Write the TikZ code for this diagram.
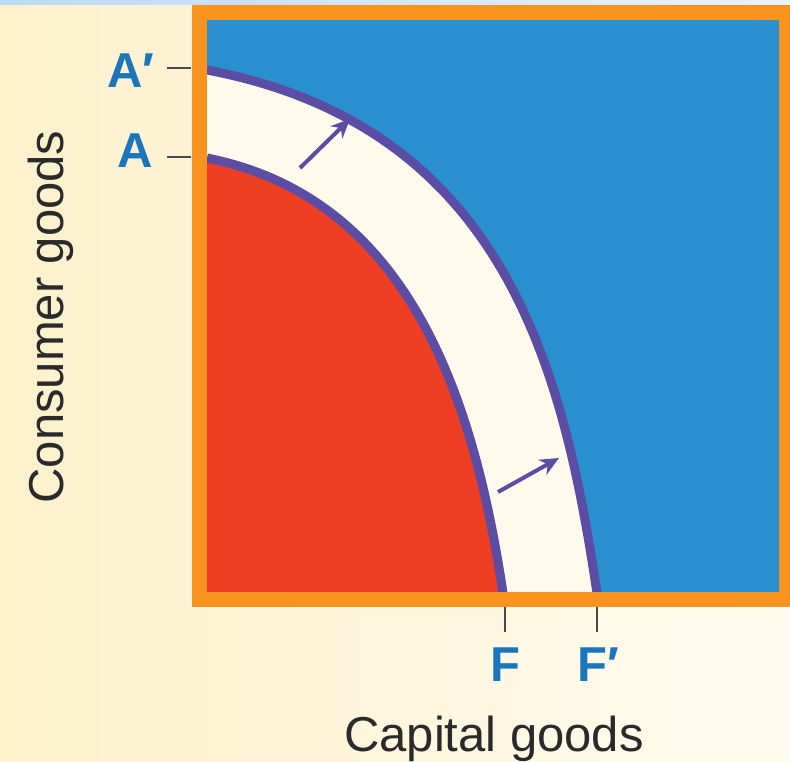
\documentclass[tikz,border=0pt]{standalone}
\usepackage{fontspec}
\setmainfont{Liberation Sans}
\usetikzlibrary{arrows.meta}
\definecolor{bgleft}{HTML}{FDF1CC}
\definecolor{bgright}{HTML}{FFFBF0}
\definecolor{stripleft}{HTML}{BCD9F5}
\definecolor{stripright}{HTML}{EDF3FB}
\definecolor{plotblue}{HTML}{2A8FCF}
\definecolor{bandcream}{HTML}{FFFAEB}
\definecolor{redfill}{HTML}{EE3F24}
\definecolor{ppfpurple}{HTML}{5A4DA3}
\definecolor{frameorange}{HTML}{F7931E}
\definecolor{lblblue}{HTML}{1C76BC}
\definecolor{textdark}{HTML}{2A2A2A}
\definecolor{tickgray}{HTML}{4A4A4A}
\begin{document}
\begin{tikzpicture}[x=1pt,y=-1pt,
  ppf/.style={draw=ppfpurple,line width=9pt},
  shiftarrow/.style={draw=ppfpurple,line width=4pt,-{Stealth[length=19pt,width=17pt]}},
  frame/.style={draw=frameorange,line width=15pt},
  tickline/.style={draw=tickgray,line width=1.6pt},
  lbl/.style={text=lblblue,font=\fontsize{49}{55}\selectfont\bfseries,inner sep=0pt},
  axislbl/.style={text=textdark,font=\fontsize{49}{55}\selectfont,inner sep=0pt}]
\useasboundingbox (0,0) rectangle (790,762);
\shade[left color=bgleft,right color=bgright] (0,0) rectangle (790,762);
\shade[left color=stripleft,right color=stripright] (0,0) rectangle (790,5);
\fill[plotblue] (200,14) rectangle (786,599);
% frontier end points
\coordinate (Aout) at (207,70);
\coordinate (Fout) at (597,593);
\coordinate (Ain) at (207,158);
\coordinate (Fin) at (503,593);
% regions
\fill[bandcream] (Aout) .. controls (507,127) and (564,373) .. (Fout) -- (598,602) -- (200,602) -- (200,70) -- cycle;
\fill[redfill] (Ain) .. controls (407,198) and (473,393) .. (Fin) -- (504,602) -- (200,602) -- (200,158) -- cycle;
% frontiers
\draw[ppf] (Ain) .. controls (407,198) and (473,393) .. (Fin);
\draw[ppf] (Aout) .. controls (507,127) and (564,373) .. (Fout);
% shift arrows
\coordinate (s1) at (300,168);
\coordinate (e1) at (350,119);
\coordinate (s2) at (498,492);
\coordinate (e2) at (559,458);
\draw[shiftarrow] (s1) -- (e1);
\draw[shiftarrow] (s2) -- (e2);
% frame
\draw[frame] (199.5,13) rectangle (786.5,599.5);
% ticks
\coordinate (tAp1) at (167,68); \coordinate (tAp2) at (191,68);
\coordinate (tA1) at (167,157); \coordinate (tA2) at (191,157);
\coordinate (tF1) at (505,607); \coordinate (tF2) at (505,632);
\coordinate (tFp1) at (597,607); \coordinate (tFp2) at (597,632);
\draw[tickline] (tAp1) -- (tAp2);
\draw[tickline] (tA1) -- (tA2);
\draw[tickline] (tF1) -- (tF2);
\draw[tickline] (tFp1) -- (tFp2);
% labels
\node[lbl,anchor=base west] (Ap) at (107,88) {A′};
\node[lbl,anchor=base] (A) at (135.5,168) {A};
\node[lbl,anchor=base] (F) at (505,681) {F};
\node[lbl,anchor=base west] (Fp) at (577,681) {F′};
\node[axislbl,rotate=90,anchor=base] (ylab) at (63,317) {Consumer goods};
\node[axislbl,anchor=base] (xlab) at (494,751) {Capital goods};
\end{tikzpicture}
\end{document}
